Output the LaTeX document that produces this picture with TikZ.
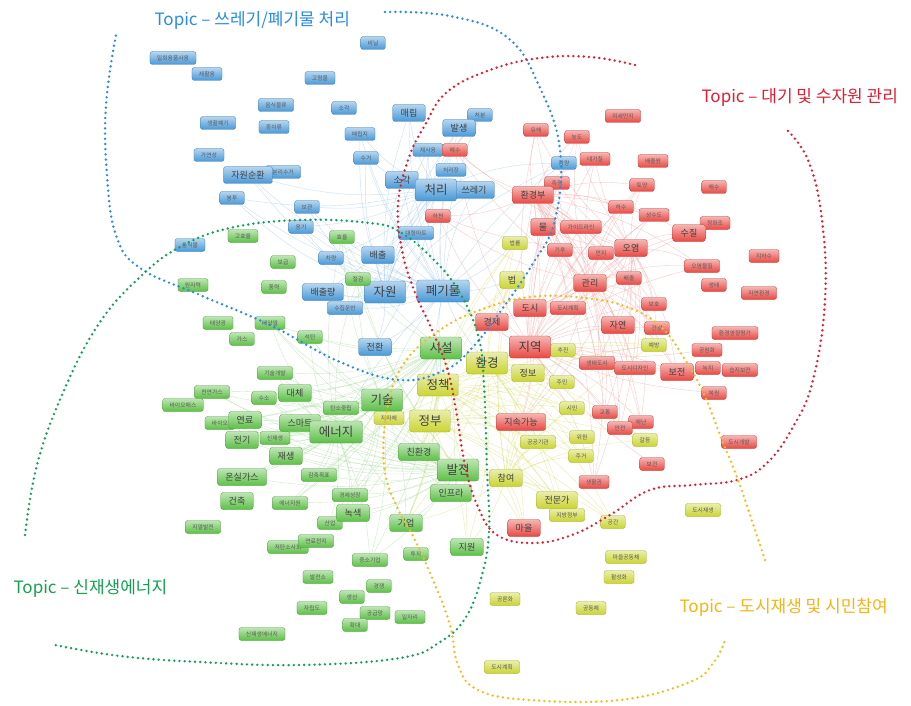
\documentclass[tikz,border=0pt]{standalone}
\usepackage{fontspec}
\setmainfont{Noto Sans CJK KR}
\usetikzlibrary{backgrounds}

\definecolor{tpblue}{RGB}{72,152,215}
\definecolor{tpred}{RGB}{232,72,66}
\definecolor{tpgreen}{RGB}{92,192,70}
\definecolor{tpyellow}{RGB}{202,212,48}
\definecolor{lnblue}{RGB}{40,140,230}
\definecolor{lnred}{RGB}{222,30,50}
\definecolor{lngreen}{RGB}{20,160,90}
\definecolor{lnyellow}{RGB}{245,190,30}
\definecolor{txgreen}{RGB}{20,160,80}
\definecolor{txyellow}{RGB}{245,180,20}

\tikzset{
  kw/.style={rounded corners=2.5pt, draw=#1!80!black, line width=.3pt,
    top color=#1!40!white, bottom color=#1, text=black!65,
    inner xsep=7pt, inner ysep=0pt, minimum height=13pt,
    font=\fontsize{5.8}{6}\selectfont},
  mid/.style={minimum height=17pt, inner xsep=8pt, font=\fontsize{9}{9}\selectfont, text=black!75},
  big/.style={minimum height=22pt, inner xsep=9pt, font=\fontsize{12.5}{12.5}\selectfont, text=black!75},
  edgeb/.style={draw=tpblue!55, line width=.4pt, opacity=.55},
  edger/.style={draw=tpred!50, line width=.4pt, opacity=.55},
  edgeg/.style={draw=tpgreen!55, line width=.4pt, opacity=.55},
  edgey/.style={draw=tpyellow!75, line width=.4pt, opacity=.55},
  topicline/.style={line width=2.7pt, dash pattern=on 0pt off 5.2pt, line cap=round},
  topic/.style={font=\fontsize{17}{17}\selectfont, anchor=west},
}

\begin{document}
\begin{tikzpicture}[x=1pt, y=-1pt]
\useasboundingbox (0,0) rectangle (911,706);

% blue: 쓰레기/폐기물
\node [kw=tpblue] (b_1) at (373,43) {비닐};
\node [kw=tpblue] (b_2) at (173,58) {일회용품사용};
\node [kw=tpblue] (b_3) at (207,74) {재활용};
\node [kw=tpblue] (b_4) at (320,78) {고형물};
\node [kw=tpblue] (b_5) at (276,105) {음식물류};
\node [kw=tpblue] (b_6) at (344,108) {소각};
\node [kw=tpblue] (b_7) at (218,123) {생활폐기};
\node [kw=tpblue] (b_8) at (274,127) {종이류};
\node [kw=tpblue] (b_9) at (360,134) {매립지};
\node [kw=tpblue] (b_10) at (366,158) {수거};
\node [kw=tpblue] (b_11) at (209,155) {가연성};
\node [kw=tpblue] (b_13) at (283,172) {분리수거};
\node [kw=tpblue, mid] (b_12) at (248,175) {자원순환};
\node [kw=tpblue] (b_14) at (232,198) {봉투};
\node [kw=tpblue] (b_15) at (307,207) {보관};
\node [kw=tpblue, mid] (b_16) at (409,113) {매립};
\node [kw=tpblue] (b_18) at (480,115) {처분};
\node [kw=tpblue, mid] (b_17) at (459,128) {발생};
\node [kw=tpblue] (b_19) at (428,150) {재사용};
\node [kw=tpblue] (b_21) at (451,170) {처리장};
\node [kw=tpblue, mid] (b_20) at (402,180) {소각};
\node [kw=tpblue, mid] (b_23) at (474,190) {쓰레기};
\node [kw=tpblue, big] (b_22) at (436,190) {처리};
\node [kw=tpblue] (b_24) at (564,163) {감량};
\node [kw=tpblue] (b_25) at (416,233) {대형마트};
\node [kw=tpblue, mid] (b_26) at (378,255) {배출};
\node [kw=tpblue, big] (b_27) at (385,292) {자원};
\node [kw=tpblue, big] (b_28) at (443,291) {폐기물};
\node [kw=tpblue, mid] (b_29) at (375,347) {전환};
\node [kw=tpblue, mid] (b_30) at (323,292) {배출량};
\node [kw=tpblue] (b_31) at (345,308) {수집운반};
\node [kw=tpblue] (b_32) at (331,258) {차량};
\node [kw=tpblue] (b_33) at (190,245) {음식물};
\node [kw=tpblue] (b_34) at (301,227) {용기};

% red: 대기 및 수자원
\node [kw=tpred] (r_1) at (455,150) {폐수};
\node [kw=tpred] (r_2) at (438,216) {하천};
\node [kw=tpred] (r_3) at (536,130) {유해};
\node [kw=tpred] (r_4) at (577,137) {농도};
\node [kw=tpred] (r_5) at (623,116) {미세먼지};
\node [kw=tpred] (r_6) at (595,159) {대기질};
\node [kw=tpred] (r_7) at (653,161) {배출원};
\node [kw=tpred] (r_8) at (557,183) {측정};
\node [kw=tpred] (r_9) at (642,185) {토양};
\node [kw=tpred] (r_10) at (714,187) {해수};
\node [kw=tpred, mid] (r_11) at (533,195) {환경부};
\node [kw=tpred] (r_12) at (621,207) {하수};
\node [kw=tpred] (r_13) at (654,215) {상수도};
\node [kw=tpred] (r_14) at (715,223) {정화조};
\node [kw=tpred] (r_16) at (581,227) {가이드라인};
\node [kw=tpred, mid] (r_15) at (543,227) {물};
\node [kw=tpred, mid] (r_17) at (689,233) {수질};
\node [kw=tpred] (r_19) at (560,250) {기후};
\node [kw=tpred] (r_20) at (601,253) {먼지};
\node [kw=tpred, mid] (r_18) at (631,248) {오염};
\node [kw=tpred] (r_21) at (764,256) {지하수};
\node [kw=tpred] (r_22) at (702,266) {오염물질};
\node [kw=tpred] (r_23) at (629,278) {배출};
\node [kw=tpred, mid] (r_24) at (590,283) {관리};
\node [kw=tpred] (r_25) at (714,285) {생태};
\node [kw=tpred] (r_26) at (759,293) {자연환경};
\node [kw=tpred] (r_27) at (654,304) {보호};
\node [kw=tpred] (r_28) at (735,333) {환경영향평가};
\node [kw=tpred, mid] (r_29) at (618,325) {자연};
\node [kw=tpred] (r_30) at (657,328) {건강};
\node [kw=tpred] (r_31) at (707,350) {공원화};
\node [kw=tpred] (r_33) at (568,308) {도시계획};
\node [kw=tpred, mid] (r_32) at (530,308) {도시};
\node [kw=tpred] (r_34) at (597,363) {생태도시};
\node [kw=tpred] (r_35) at (635,368) {도시디자인};
\node [kw=tpred] (r_37) at (708,368) {녹지};
\node [kw=tpred] (r_38) at (740,370) {습지보전};
\node [kw=tpred, mid] (r_36) at (677,372) {보전};
\node [kw=tpred] (r_39) at (714,393) {복원};
\node [kw=tpred, mid] (r_41) at (492,322) {경제};
\node [kw=tpred] (r_43) at (605,412) {교통};
\node [kw=tpred] (r_45) at (641,422) {재난};
\node [kw=tpred] (r_44) at (620,428) {안전};
\node [kw=tpred] (r_46) at (652,464) {보건};
\node [kw=tpred] (r_47) at (594,482) {생활권};
\node [kw=tpred] (r_48) at (739,442) {도시개발};
\node [kw=tpred, mid] (r_49) at (524,528) {마을};

% yellow: 도시재생 및 시민참여
\node [kw=tpyellow] (y_1) at (515,243) {법률};
\node [kw=tpyellow, mid] (y_2) at (512,280) {법};
\node [kw=tpyellow] (y_24) at (563,350) {추진};
\node [kw=tpyellow] (y_23) at (654,345) {예방};
\node [kw=tpyellow, mid] (y_5) at (528,373) {정보};
\node [kw=tpyellow] (y_6) at (562,382) {주민};
\node [kw=tpyellow, big] (y_4) at (438,385) {정책};
\node [kw=tpyellow] (y_8) at (389,418) {지자체};
\node [kw=tpyellow, big] (y_7) at (430,421) {정부};
\node [kw=tpyellow] (y_9) at (572,408) {시민};
\node [kw=tpyellow] (y_10) at (538,442) {공공기관};
\node [kw=tpyellow] (y_11) at (582,437) {위원};
\node [kw=tpyellow] (y_25) at (645,440) {갈등};
\node [kw=tpyellow] (y_12) at (581,456) {주거};
\node [kw=tpyellow, mid] (y_13) at (506,478) {참여};
\node [kw=tpyellow] (y_15) at (567,515) {지방정부};
\node [kw=tpyellow, mid] (y_14) at (557,500) {전문가};
\node [kw=tpyellow] (y_16) at (613,522) {공간};
\node [kw=tpyellow] (y_17) at (703,510) {도시재생};
\node [kw=tpyellow] (y_18) at (626,557) {마을공동체};
\node [kw=tpyellow] (y_19) at (619,577) {활성화};
\node [kw=tpyellow] (y_20) at (505,599) {공론화};
\node [kw=tpyellow] (y_21) at (591,608) {공동체};
\node [kw=tpyellow] (y_22) at (502,667) {도시계획};

% green: 신재생에너지
\node [kw=tpgreen] (g_1) at (243,236) {고효율};
\node [kw=tpgreen] (g_2) at (283,262) {보급};
\node [kw=tpgreen] (g_3) at (342,237) {효율};
\node [kw=tpgreen] (g_4) at (193,285) {원자력};
\node [kw=tpgreen] (g_5) at (274,287) {풍력};
\node [kw=tpgreen] (g_6) at (218,323) {태양광};
\node [kw=tpgreen] (g_7) at (270,323) {태양열};
\node [kw=tpgreen] (g_8) at (242,339) {가스};
\node [kw=tpgreen] (g_9) at (310,337) {석탄};
\node [kw=tpgreen] (g_10) at (358,279) {절감};
\node [kw=tpgreen] (g_15) at (275,373) {기술개발};
\node [kw=tpgreen] (g_18) at (212,392) {천연가스};
\node [kw=tpgreen] (g_19) at (183,405) {바이오매스};
\node [kw=tpgreen] (g_17) at (264,398) {수소};
\node [kw=tpgreen, mid] (g_16) at (295,393) {대체};
\node [kw=tpgreen] (g_21) at (220,423) {바이오};
\node [kw=tpgreen, mid] (g_20) at (245,420) {연료};
\node [kw=tpgreen] (g_23) at (275,438) {신재생};
\node [kw=tpgreen, mid] (g_22) at (242,440) {전기};
\node [kw=tpgreen] (g_24) at (341,408) {탄소중립};
\node [kw=tpgreen, mid] (g_14) at (300,423) {스마트};
\node [kw=tpgreen, big] (g_13) at (336,432) {에너지};
\node [kw=tpgreen, big] (g_12) at (382,400) {기술};
\node [kw=tpgreen, mid] (g_25) at (286,456) {재생};
\node [kw=tpgreen, mid] (g_26) at (242,477) {온실가스};
\node [kw=tpgreen] (g_27) at (319,475) {감축목표};
\node [kw=tpgreen, mid] (g_28) at (237,501) {건축};
\node [kw=tpgreen] (g_29) at (290,503) {에너지원};
\node [kw=tpgreen] (g_30) at (350,495) {경제성장};
\node [kw=tpgreen] (g_32) at (330,523) {산업};
\node [kw=tpgreen, mid] (g_31) at (353,513) {녹색};
\node [kw=tpgreen] (g_33) at (203,527) {지열발전};
\node [kw=tpgreen] (g_34) at (288,547) {저탄소사회};
\node [kw=tpgreen] (g_35) at (316,541) {연료전지};
\node [kw=tpgreen, mid] (g_36) at (406,523) {기업};
\node [kw=tpgreen] (g_37) at (370,560) {중소기업};
\node [kw=tpgreen] (g_38) at (416,554) {투자};
\node [kw=tpgreen, mid] (g_39) at (467,547) {지원};
\node [kw=tpgreen] (g_40) at (318,577) {발전소};
\node [kw=tpgreen] (g_41) at (379,586) {경쟁};
\node [kw=tpgreen] (g_42) at (352,597) {생산};
\node [kw=tpgreen] (g_43) at (312,608) {자립도};
\node [kw=tpgreen] (g_44) at (375,613) {공급망};
\node [kw=tpgreen] (g_45) at (410,617) {일자리};
\node [kw=tpgreen] (g_46) at (355,625) {확대};
\node [kw=tpgreen] (g_47) at (262,634) {신재생에너지};
\node [kw=tpgreen, mid] (g_48) at (419,452) {친환경};
\node [kw=tpgreen, mid] (g_50) at (451,493) {인프라};
\node [kw=tpgreen, big] (g_49) at (458,470) {발전};
\node [kw=tpgreen, big] (g_11) at (441,348) {시설};
\node [kw=tpred, big] (r_40) at (530,347) {지역};
\node [kw=tpred, mid] (r_42) at (521,422) {지속가능};
\node [kw=tpyellow, big] (y_3) at (487,363) {환경};

% links
\begin{scope}[on background layer]
\fill [white] (0,0) rectangle (911,706);
\foreach \h in {b_28,b_22,b_27}
  \foreach \t in {b_16,b_17,b_18,b_19,b_20,b_21,b_23,b_25,b_26,b_29,b_30,b_31,b_32,b_12,b_10,b_9,b_24,b_34,b_15,b_14}
    \draw [edgeb] (\h) to [bend left=10] (\t);
\foreach \t in {y_3,y_4,y_1,y_2,r_40,r_11,r_41,g_11,g_12,g_13,g_3,g_10}
  \draw [edgeb] (b_28) to [bend right=8] (\t);
\foreach \h in {r_40,r_18,r_11,r_24}
  \foreach \t in {r_3,r_4,r_6,r_8,r_9,r_12,r_13,r_15,r_16,r_17,r_19,r_20,r_22,r_23,r_27,r_29,r_30,r_32,r_33,r_34,r_35,r_36,r_41,r_42,r_43,r_44,r_45,r_47,r_2,r_1}
    \draw [edger] (\h) to [bend left=10] (\t);
\foreach \t in {y_3,y_5,y_6,y_9,y_23,y_24,r_37,r_31,r_38,r_39,r_46}
  \draw [edger] (r_40) to [bend right=8] (\t);
\foreach \h in {g_13,g_12,g_11,g_49}
  \foreach \t in {g_10,g_14,g_15,g_16,g_17,g_20,g_22,g_23,g_24,g_25,g_26,g_27,g_29,g_30,g_31,g_36,g_48,g_50,g_3,g_9,g_7,g_18,g_21,g_32,g_37}
    \draw [edgeg] (\h) to [bend left=10] (\t);
\foreach \h in {y_3,y_4,y_13,y_7}
  \foreach \t in {y_1,y_2,y_5,y_6,y_8,y_9,y_10,y_11,y_12,y_14,y_15,y_16,y_23,y_24,y_25,r_49,g_39,g_36,g_48,r_42}
    \draw [edgey] (\h) to [bend left=10] (\t);
\end{scope}

% topic areas
\draw [topicline, lnblue] plot [smooth, tension=.7] coordinates {(385,12) (450,16) (508,38) (540,88) (560,150) (555,220) (532,265) (500,312) (472,348) (445,370) (400,380) (340,362) (270,325) (200,295) (140,268) (116,235) (107,175) (106,105) (116,35)};
\draw [topicline, lnred] plot [smooth, tension=.7] coordinates {(635,65) (590,57) (540,58) (490,70) (447,92) (425,125) (408,160) (398,205) (402,250) (414,290) (432,330) (447,368) (456,410) (465,465) (478,507) (497,535) (533,543) (572,535) (610,515) (650,490) (693,485) (737,480) (767,463) (793,427) (813,380) (825,300) (822,220) (808,160) (785,128)};
\draw [topicline, lngreen] plot [smooth, tension=.7] coordinates {(25,535) (37,465) (62,395) (98,325) (140,277) (180,247) (230,228) (300,220) (370,223) (400,232) (432,258) (458,290) (478,335) (484,385) (487,470) (489,530) (482,575) (466,617) (440,642) (400,658) (300,665) (200,662) (120,656) (55,645)};
\draw [topicline, lnyellow] plot [smooth, tension=.7] coordinates {(765,560) (755,530) (738,480) (722,440) (703,392) (684,358) (662,328) (630,308) (585,298) (530,297) (480,310) (440,330) (405,362) (388,405) (384,465) (397,507) (414,538) (433,580) (450,625) (458,665) (478,690) (530,700) (620,700) (690,682) (714,662) (725,640)};

% topic labels
\node [topic, text=lnblue] (t_b) at (151,20) {Topic – 쓰레기/폐기물 처리};
\node [topic, text=lnred] (t_r) at (698,97) {Topic – 대기 및 수자원 관리};
\node [topic, text=txgreen] (t_g) at (10,588) {Topic – 신재생에너지};
\node [topic, text=txyellow] (t_y) at (676,607) {Topic – 도시재생 및 시민참여};
\end{tikzpicture}
\end{document}
